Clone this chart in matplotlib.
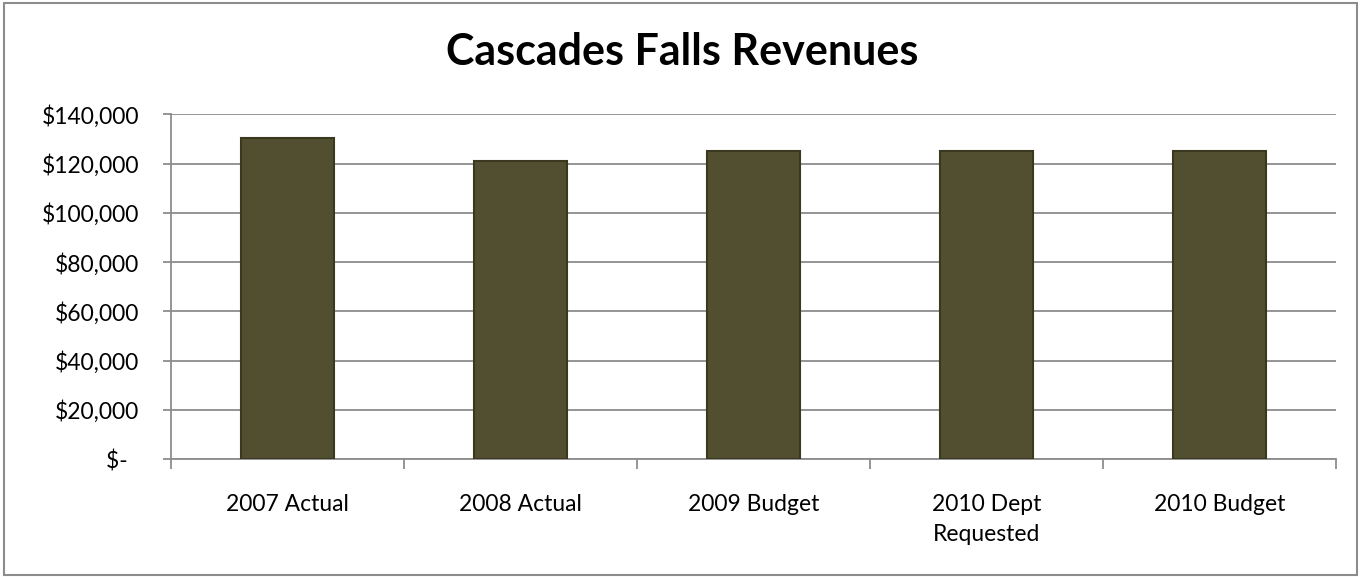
import matplotlib
matplotlib.use('Agg')
import matplotlib.pyplot as plt
from matplotlib.patches import Rectangle

plt.rcParams['font.family'] = ['Lato', 'DejaVu Sans']

categories = ['2007 Actual', '2008 Actual', '2009 Budget', '2010 Dept\nRequested', '2010 Budget']
revenues = [130500, 121200, 125000, 125000, 125000]
yticks = [0, 20000, 40000, 60000, 80000, 100000, 120000, 140000]
ylabels = ['$-  ', '$20,000', '$40,000', '$60,000', '$80,000', '$100,000', '$120,000', '$140,000']

fig = plt.figure(figsize=(13.64, 5.77), dpi=100)
fig.patches.append(Rectangle((0.003, 0.004), 0.992, 0.99, transform=fig.transFigure,
                             fill=False, edgecolor='#8c8c8c', linewidth=1.5))
ax = fig.add_axes([0.1254, 0.2045, 0.8541, 0.5974])

x = range(len(categories))
ax.bar(x, revenues, width=0.4, color='#524E30', edgecolor='#3b3820', linewidth=1.5, zorder=3)

ax.set_ylim(0, 140000)
ax.set_xlim(-0.5, len(categories) - 0.5)
ax.set_yticks(yticks)
ax.set_yticklabels(ylabels, fontsize=16.5)
ax.yaxis.grid(True, color='#8c8c8c', linewidth=1.3, zorder=0)
ax.tick_params(axis='y', length=6, color='#8c8c8c', width=1.3, pad=17)

ax.set_xticks([i - 0.5 for i in range(len(categories) + 1)])
ax.set_xticklabels([])
ax.set_xticks(list(x), minor=True)
ax.set_xticklabels(categories, minor=True, fontsize=16.5, linespacing=1.55)
ax.tick_params(axis='x', which='major', length=7, color='#8c8c8c', width=1.3)
ax.tick_params(axis='x', which='minor', length=0, pad=25)

for s in ['top', 'right']:
    ax.spines[s].set_visible(False)
for s in ['left', 'bottom']:
    ax.spines[s].set_color('#8c8c8c')
    ax.spines[s].set_linewidth(1.3)

fig.suptitle('Cascades Falls Revenues', fontsize=31, fontweight='bold', y=0.945)

fig.savefig('out.png', dpi=100)
